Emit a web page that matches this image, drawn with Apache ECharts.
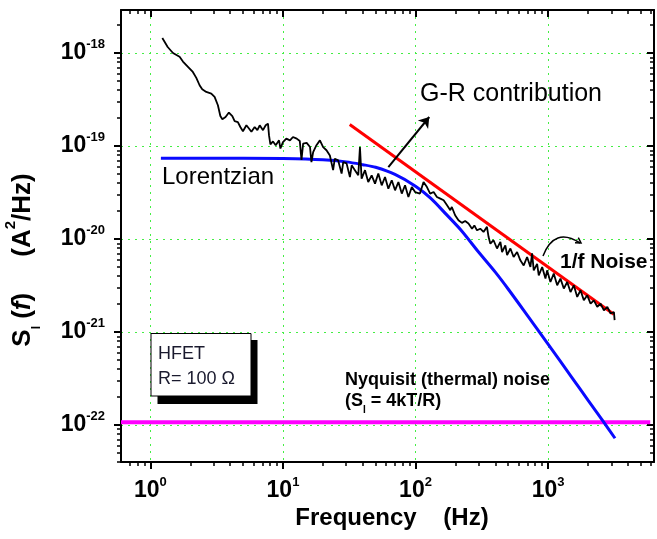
<!DOCTYPE html>
<html>
<head>
<meta charset="utf-8">
<script src="https://cdn.jsdelivr.net/npm/echarts@6/dist/echarts.min.js"></script>
<style>
html, body { margin: 0; padding: 0; background: #fff; }
#ch { width: 657px; height: 539px; }
</style>
</head>
<body>
<div id="ch"></div>
<script>
var freq = [1.23, 1.35, 1.48, 1.66, 1.76, 1.92, 2.09, 2.22, 2.35, 2.46, 2.64, 2.88, 3.05, 3.23, 3.37, 3.49, 3.69, 3.91, 4.15, 4.32,
  4.57, 4.77, 4.99, 5.30, 5.54, 5.78, 6.12, 6.41, 6.68, 7.07, 7.41, 7.71, 7.85, 8.04, 8.41, 8.82, 9.34, 9.57, 10.0, 10.6,
  11.3, 11.9, 12.7, 13.4, 13.8, 14.2, 15.1, 16.0, 16.4, 16.9, 17.9, 19.0, 20.1, 21.3, 22.6, 23.9, 24.6, 26.1, 27.7, 28.5,
  30.2, 32.0, 33.0, 34.9, 37.0, 38.1, 39.2, 41.6, 44.0, 46.7, 49.5, 52.4, 55.6, 58.9, 62.4, 66.2, 70.1, 74.3, 78.8, 83.4,
  88.4, 93.8, 99.3,
  108, 115, 122, 129, 137, 145, 154, 163, 173, 183, 188, 199, 211, 224, 237, 251, 267, 278, 291, 308,
  326, 346, 356, 367, 388, 412, 437, 450, 476, 491, 520, 550, 584, 618,
  655, 695, 736, 758, 780, 827, 851, 903, 956, 984, 1042, 1104, 1172, 1241, 1315, 1395, 1477, 1564, 1660, 1758,
  1862, 1976, 2093, 2217, 2351, 2491, 2638, 2799, 2965, 3141, 3178];
var psd = [1.45e-18, 1.16e-18, 1.0e-18, 9.1e-19, 8.1e-19, 7.1e-19, 6.25e-19, 5.4e-19, 4.5e-19, 4.07e-19, 3.81e-19, 3.66e-19, 3.37e-19, 2.74e-19, 2.10e-19, 1.94e-19, 2.05e-19, 2.29e-19, 2.10e-19, 1.85e-19,
  1.81e-19, 1.60e-19, 1.44e-19, 1.67e-19, 1.54e-19, 1.42e-19, 1.60e-19, 1.48e-19, 1.67e-19, 1.48e-19, 1.67e-19, 1.74e-19, 1.30e-19, 1.04e-19, 1.12e-19, 1.02e-19, 1.15e-19, 9.4e-20, 1.10e-19, 1.20e-19,
  1.15e-19, 1.25e-19, 1.20e-19, 1.13e-19, 7.1e-20, 1.06e-19, 1.08e-19, 9.75e-20, 6.7e-20, 8.6e-20, 1.02e-19, 1.15e-19, 9.75e-20, 9.0e-20, 7.9e-20, 5.5e-20, 7.3e-20, 7.0e-20, 5.05e-20, 6.7e-20,
  6.5e-20, 4.64e-20, 6.2e-20, 5.5e-20, 4.84e-20, 9.75e-20, 4.46e-20, 5.5e-20, 4.1e-20, 4.84e-20, 3.94e-20, 5.05e-20, 3.78e-20, 4.64e-20, 3.48e-20, 4.28e-20, 3.34e-20, 4.1e-20, 3.08e-20, 3.78e-20,
  2.83e-20, 3.62e-20, 3.2e-20,
  3.08e-20, 4.1e-20, 3.62e-20, 3.08e-20, 3.2e-20, 2.83e-20, 2.72e-20, 2.61e-20, 2.30e-20, 2.04e-20, 2.21e-20, 1.80e-20, 1.59e-20, 1.49e-20, 1.56e-20, 1.47e-20, 1.29e-20, 1.40e-20, 1.24e-20, 1.29e-20,
  1.19e-20, 1.35e-20, 1.05e-20, 8.9e-21, 9.7e-21, 7.9e-21, 9.3e-21, 7.25e-21, 8.55e-21, 6.7e-21, 7.9e-21, 6.4e-21, 7.25e-21, 5.9e-21,
  5.2e-21, 6.4e-21, 5.0e-21, 7.0e-21, 4.6e-21, 5.4e-21, 4.07e-21, 5.0e-21, 3.75e-21, 4.6e-21, 3.45e-21, 4.25e-21, 3.18e-21, 3.75e-21, 2.93e-21, 3.45e-21, 2.69e-21, 3.18e-21, 2.38e-21, 2.81e-21,
  2.19e-21, 2.48e-21, 2.02e-21, 2.19e-21, 1.86e-21, 2.02e-21, 1.71e-21, 1.86e-21, 1.58e-21, 1.64e-21, 1.34e-21];

// Lorentzian fit
var lorF = [1.2, 5, 10, 20, 30, 40, 50, 70, 100, 130, 170, 220, 300, 400, 500, 700, 1000, 1500, 2000, 2600, 3200];
var lorS = [7.4e-20, 7.4e-20, 7.33e-20, 7.1e-20, 6.75e-20, 6.3e-20, 5.9e-20, 4.95e-20, 3.7e-20, 2.75e-20, 1.85e-20, 1.25e-20,
  7.2e-21, 4.4e-21, 2.9e-21, 1.5e-21, 7.4e-22, 3.3e-22, 1.85e-22, 1.1e-22, 7.2e-23];

// 1/f line and thermal floor
var oneOverF = [[31.9, 1.70e-19], [3134, 1.55e-21]];
var nyquist = [[0.6, 1.07e-22], [5900, 1.07e-22]];
var arrowFrom = [62.4, 5.94e-20];
var arrowTo = [127, 2.05e-19];

var xMin = 0.6, xMax = 6300, yMin = 4e-23, yMax = 2.9e-18;
var xMajor = [1, 10, 100, 1000];
var xMinor = [0.7, 0.8, 0.9, 2, 3, 4, 5, 6, 7, 8, 9, 20, 30, 40, 50, 60, 70, 80, 90,
  200, 300, 400, 500, 600, 700, 800, 900, 2000, 3000, 4000, 5000, 6000];
var yMajor = [1e-22, 1e-21, 1e-20, 1e-19, 1e-18];
var yMinor = [4e-23, 5e-23, 6e-23, 7e-23, 8e-23, 9e-23,
  2e-22, 3e-22, 4e-22, 5e-22, 6e-22, 7e-22, 8e-22, 9e-22,
  2e-21, 3e-21, 4e-21, 5e-21, 6e-21, 7e-21, 8e-21, 9e-21,
  2e-20, 3e-20, 4e-20, 5e-20, 6e-20, 7e-20, 8e-20, 9e-20,
  2e-19, 3e-19, 4e-19, 5e-19, 6e-19, 7e-19, 8e-19, 9e-19, 2e-18];

var FONT = "'Liberation Sans', Arial, sans-serif";

function expLabel(v) {
  var e = Math.round(Math.log(v) / Math.LN10);
  return '{b|10}{s|' + e + '}';
}
var labelRich = {
  b: { fontFamily: FONT, fontSize: 23, fontWeight: 'bold', lineHeight: 30, color: '#000' },
  s: { fontFamily: FONT, fontSize: 13, fontWeight: 'bold', verticalAlign: 'top', lineHeight: 16, color: '#000' }
};
var gridDots = { color: '#44ee44', width: 1, type: [2, 5] };

function mkAxis(kind, pos, ticks, major, inside) {
  var ax = {
    type: 'log', position: pos, gridIndex: 0,
    min: kind === 'x' ? xMin : yMin,
    max: kind === 'x' ? xMax : yMax,
    axisLine: { show: major, onZero: false, lineStyle: { color: '#000', width: 2 } },
    axisTick: { show: true, inside: inside, length: major ? 7 : 4, customValues: ticks,
      lineStyle: { color: '#000', width: major ? 2 : 1.5 } },
    axisLabel: { show: false },
    splitLine: { show: false },
    minorTick: { show: false }
  };
  if (major && (pos === 'bottom' || pos === 'left')) {
    ax.axisLabel = { show: true, customValues: ticks, margin: kind === 'x' ? 14 : 16,
      formatter: expLabel, rich: labelRich };
    ax.splitLine = { show: true, lineStyle: gridDots };
  }
  return ax;
}

var noise = [];
for (var i = 0; i < freq.length; i++) noise.push([freq[i], psd[i]]);
var lor = [];
for (var j = 0; j < lorF.length; j++) lor.push([lorF[j], lorS[j]]);

var txt = function (x, y, text, size, weight, extra) {
  var st = { text: text, x: 0, y: 0, fill: '#000', fontFamily: FONT, fontSize: size,
    fontWeight: weight, align: 'left', verticalAlign: 'middle' };
  for (var k in extra || {}) st[k] = extra[k];
  return { type: 'text', x: x, y: y, z: 100, style: st };
};

var ch = echarts.init(document.getElementById('ch'));
var op = {
  animation: false,
  backgroundColor: '#fff',
  grid: { left: 121, right: 3, top: 10, bottom: 77, containLabel: false, outerBoundsMode: 'none' },
  xAxis: [
    mkAxis('x', 'bottom', xMajor, true, false),
    mkAxis('x', 'bottom', xMinor, false, false),
    mkAxis('x', 'top', xMajor, true, true),
    mkAxis('x', 'top', xMinor, false, true)
  ],
  yAxis: [
    mkAxis('y', 'left', yMajor, true, false),
    mkAxis('y', 'left', yMinor, false, false),
    mkAxis('y', 'right', yMajor, true, true),
    mkAxis('y', 'right', yMinor, false, true)
  ],
  series: [
    { name: 'Nyquist', type: 'line', data: nyquist, showSymbol: false,
      lineStyle: { color: '#ff00ff', width: 4 } },
    { name: 'Lorentzian', type: 'line', data: lor, showSymbol: false, smooth: 0.3,
      lineStyle: { color: '#0a0aff', width: 3 } },
    { name: '1/f', type: 'line', data: oneOverF, showSymbol: false,
      lineStyle: { color: '#ff0000', width: 3 } },
    { name: 'S_I', type: 'line', data: noise, showSymbol: false,
      lineStyle: { color: '#000', width: 1.8 },
      markLine: {
        silent: true, symbol: ['none', 'arrow'], symbolSize: 10,
        label: { show: false },
        lineStyle: { color: '#000', width: 2, type: 'solid' },
        data: [[{ coord: arrowFrom }, { coord: arrowTo }]]
      } }
  ],
  graphic: [
    // y axis title
    { type: 'text', x: 23, y: 260, rotation: Math.PI / 2, z: 100,
      style: { text: '{a|S}{sb|I}{a| (}{i|f}{a|)     (A}{sp|2}{a|/Hz)}', align: 'center', verticalAlign: 'middle',
        rich: {
          a: { fontFamily: FONT, fontSize: 26, fontWeight: 'bold', lineHeight: 40, color: '#000' },
          i: { fontFamily: FONT, fontSize: 26, fontWeight: 'bold', fontStyle: 'italic', lineHeight: 40, color: '#000' },
          sb: { fontFamily: FONT, fontSize: 12, fontWeight: 'bold', verticalAlign: 'bottom', lineHeight: 12, color: '#000' },
          sp: { fontFamily: FONT, fontSize: 15, fontWeight: 'bold', verticalAlign: 'top', lineHeight: 16, color: '#000' }
        } } },
    // x axis title
    txt(392, 518, 'Frequency    (Hz)', 24, 'bold', { align: 'center' }),
    txt(162, 177, 'Lorentzian', 24, 'normal'),
    txt(420, 94, 'G-R contribution', 25, 'normal'),
    txt(560, 262, '1/f Noise', 21, 'bold'),
    txt(345, 380, 'Nyquisit (thermal) noise', 18, 'bold'),
    { type: 'text', x: 345, y: 401, z: 100,
      style: { text: '{a|(S}{sb|I}{a| = 4kT/R)}', align: 'left', verticalAlign: 'middle',
        rich: {
          a: { fontFamily: FONT, fontSize: 18, fontWeight: 'bold', lineHeight: 28, color: '#000' },
          sb: { fontFamily: FONT, fontSize: 10, fontWeight: 'bold', verticalAlign: 'bottom', lineHeight: 10, color: '#000' }
        } } },
    // HFET box with shadow
    { type: 'rect', z: 99, shape: { x: 157.5, y: 340, width: 100, height: 64 }, style: { fill: '#000' } },
    { type: 'rect', z: 100, shape: { x: 151, y: 333.5, width: 100, height: 62.5 },
      style: { fill: '#fff', stroke: '#000', lineWidth: 1 } },
    txt(158, 354, 'HFET', 18, 'normal', { fill: '#1a1a2e' }),
    txt(158, 379, 'R= 100 \u03A9', 18, 'normal', { fill: '#1a1a2e' }),
    // curved arrow toward 1/f label
    { type: 'bezierCurve', z: 100,
      shape: { x1: 543, y1: 256, cpx1: 554.5, cpy1: 226.5, x2: 580, y2: 243 },
      style: { stroke: '#000', lineWidth: 1.5, fill: null } },
    { type: 'polyline', z: 100,
      shape: { points: [[578.3, 237.7], [581, 243], [575, 242.7]] },
      style: { stroke: '#000', lineWidth: 1.5, fill: null } }
  ]
};
ch.setOption(op);
</script>
</body>
</html>
